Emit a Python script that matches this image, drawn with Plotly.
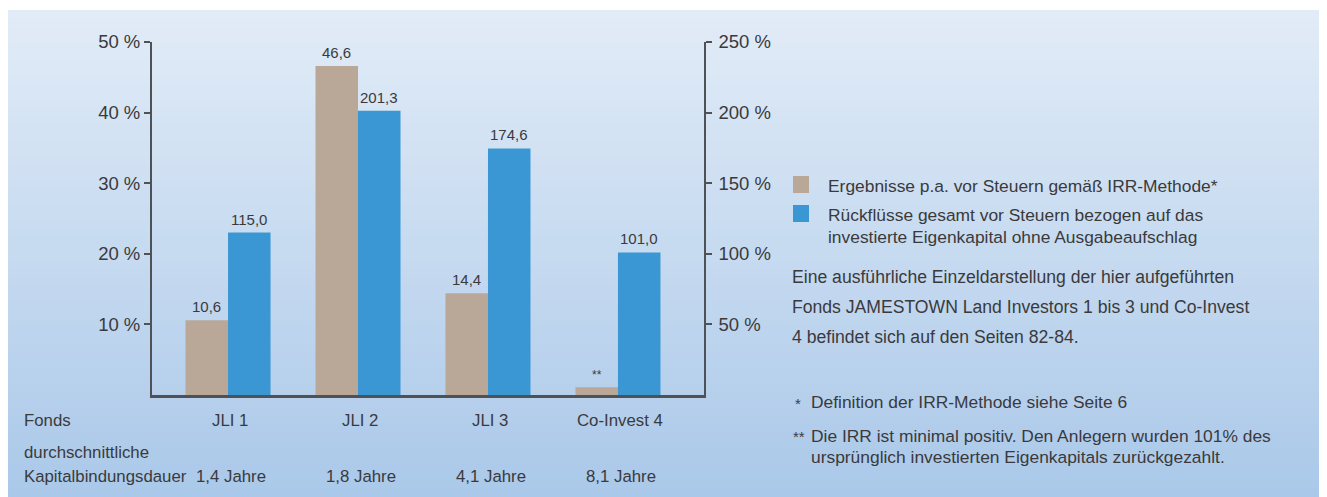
import plotly.graph_objects as go

# ---------------- data ----------------
funds = ["JLI 1", "JLI 2", "JLI 3", "Co-Invest 4"]
durations = ["1,4 Jahre", "1,8 Jahre", "4,1 Jahre", "8,1 Jahre"]
irr_values = [10.6, 46.6, 14.4, 1.1]            # left axis, %
irr_labels = ["10,6", "46,6", "14,4", "**"]
returns_values = [115.0, 201.3, 174.6, 101.0]   # right axis, %
returns_labels = ["115,0", "201,3", "174,6", "101,0"]
left_ticks = [10, 20, 30, 40, 50]
left_ticktext = ["10 %", "20 %", "30 %", "40 %", "50 %"]
right_ticks = [50, 100, 150, 200, 250]
right_ticktext = ["50 %", "100 %", "150 %", "200 %", "250 %"]
legend_irr = ["Ergebnisse p.a. vor Steuern gemäß IRR-Methode*"]
legend_ret = ["Rückflüsse gesamt vor Steuern bezogen auf das",
              "investierte Eigenkapital ohne Ausgabeaufschlag"]
paragraph = ["Eine ausführliche Einzeldarstellung der hier aufgeführten",
             "Fonds JAMESTOWN Land Investors 1 bis 3 und Co-Invest",
             "4 befindet sich auf den Seiten 82-84."]
row_fonds = "Fonds"
row_dauer = ["durchschnittliche", "Kapitalbindungsdauer"]

# ---------------- style ----------------
OFF = 8                       # page body margin
W, H = 1330, 489
L, R, T, B = 152 - OFF, 704 - OFF, 42 - OFF, 395 - OFF
BEIGE = "#b9a898"
BLUE = "#3a97d3"
TXT = "#3a3a3c"
AX = "#4e5156"
FONT = "Liberation Sans, Arial, sans-serif"
bw = 0.327


def px_x(sx):   # screen x -> paper
    return (sx - OFF - L) / (R - L)


def px_y(sy):   # screen y -> paper
    return (B - (sy - OFF)) / (B - T)


x = list(range(len(funds)))

fig = go.Figure()
fig.add_trace(go.Bar(x=x, y=irr_values, width=bw, offset=-bw, marker_color=BEIGE,
                     marker_line_width=0, yaxis="y", showlegend=False, hoverinfo="skip"))
fig.add_trace(go.Bar(x=x, y=returns_values, width=bw, offset=0, marker_color=BLUE,
                     marker_line_width=0, yaxis="y2", showlegend=False, hoverinfo="skip"))

ann = []
for i in x:
    ann.append(dict(x=i - bw / 2, y=irr_values[i], xref="x", yref="y", text=irr_labels[i],
                    showarrow=False, yanchor="bottom", yshift=3,
                    font=dict(size=15 if irr_labels[i] != "**" else 12, color=TXT, family=FONT)))
    ann.append(dict(x=i + bw / 2, y=returns_values[i], xref="x", yref="y2", text=returns_labels[i],
                    showarrow=False, yanchor="bottom", yshift=3,
                    font=dict(size=15, color=TXT, family=FONT)))
    ann.append(dict(x=i, y=px_y(420), xref="x", yref="paper", text=funds[i], showarrow=False,
                    yanchor="middle", xshift=2, font=dict(size=16.8, color=TXT, family=FONT)))
    ann.append(dict(x=i, y=px_y(477), xref="x", yref="paper", text=durations[i], showarrow=False,
                    yanchor="middle", xshift=3, font=dict(size=16.8, color=TXT, family=FONT)))


def txt(sx, sy, s, size, anchor="left"):
    ann.append(dict(x=px_x(sx), y=px_y(sy), xref="paper", yref="paper", text=s, showarrow=False,
                    xanchor=anchor, yanchor="middle", font=dict(size=size, color=TXT, family=FONT)))


txt(22, 420, row_fonds, 16.8)
txt(22, 452, row_dauer[0], 16.8)
txt(22, 477, row_dauer[1], 16.8)

txt(826, 186, legend_irr[0], 17.4)
txt(826, 215, legend_ret[0], 17.4)
txt(826, 237, legend_ret[1], 17.4)

for k, line in enumerate(paragraph):
    txt(790, 277 + 30 * k, line, 17.6)

txt(793, 403, "*", 15)
txt(809, 402, "Definition der IRR-Methode siehe Seite 6", 17.4)
txt(791, 436, "**", 15)
txt(809, 436, "Die IRR ist minimal positiv. Den Anlegern wurden 101% des", 17.4)
txt(809, 457, "ursprünglich investierten Eigenkapitals zurückgezahlt.", 17.4)

shapes = []
# gradient background panel
top_c = (226, 236, 247)
bot_c = (170, 200, 233)
y_top, y_bot = 10, 497
n = 60
for k in range(n):
    t = (k + 0.5) / n
    c = tuple(int(round(top_c[j] + (bot_c[j] - top_c[j]) * t)) for j in range(3))
    sy0 = y_top + (y_bot - y_top) * k / n
    sy1 = min(y_top + (y_bot - y_top) * (k + 1) / n + 1, 500)
    shapes.append(dict(type="rect", xref="paper", yref="paper", layer="below",
                       x0=px_x(8), x1=px_x(1345), y0=px_y(sy1), y1=px_y(sy0),
                       fillcolor="rgb(%d,%d,%d)" % c, line_width=0))
# legend swatches
shapes.append(dict(type="rect", xref="paper", yref="paper", x0=px_x(793), x1=px_x(809),
                   y0=px_y(193), y1=px_y(176), fillcolor=BEIGE, line_width=0))
shapes.append(dict(type="rect", xref="paper", yref="paper", x0=px_x(793), x1=px_x(809),
                   y0=px_y(222), y1=px_y(205), fillcolor=BLUE, line_width=0))

fig.update_layout(
    width=W, height=H,
    margin=dict(l=L, r=W - R, t=T, b=H - B, pad=0),
    paper_bgcolor="white", plot_bgcolor="rgba(0,0,0,0)",
    font=dict(family=FONT, color=TXT),
    barmode="overlay",
    xaxis=dict(range=[-0.585, 3.662], showticklabels=False, ticks="", showgrid=False,
               zeroline=False, showline=True, linecolor=AX, linewidth=2.5, fixedrange=True),
    yaxis=dict(range=[0, 50], tickvals=left_ticks, ticktext=left_ticktext, ticks="outside",
               ticklen=6, tickwidth=1.5, tickcolor=AX, showgrid=False, zeroline=False,
               showline=True, linecolor=AX, linewidth=2, ticklabelstandoff=0,
               tickfont=dict(size=18.5, color=TXT, family=FONT)),
    yaxis2=dict(range=[0, 250], tickvals=right_ticks, ticktext=right_ticktext, ticks="outside",
                ticklen=6, tickwidth=1.5, tickcolor=AX, showgrid=False, zeroline=False,
                showline=True, linecolor=AX, linewidth=1.5, overlaying="y", side="right",
                ticklabelstandoff=3, tickfont=dict(size=18.5, color=TXT, family=FONT)),
    annotations=ann,
    shapes=shapes,
    showlegend=False,
)

fig.write_html("out.html", config={"displayModeBar": False},
               post_script="document.body.style.overflow='hidden';")
